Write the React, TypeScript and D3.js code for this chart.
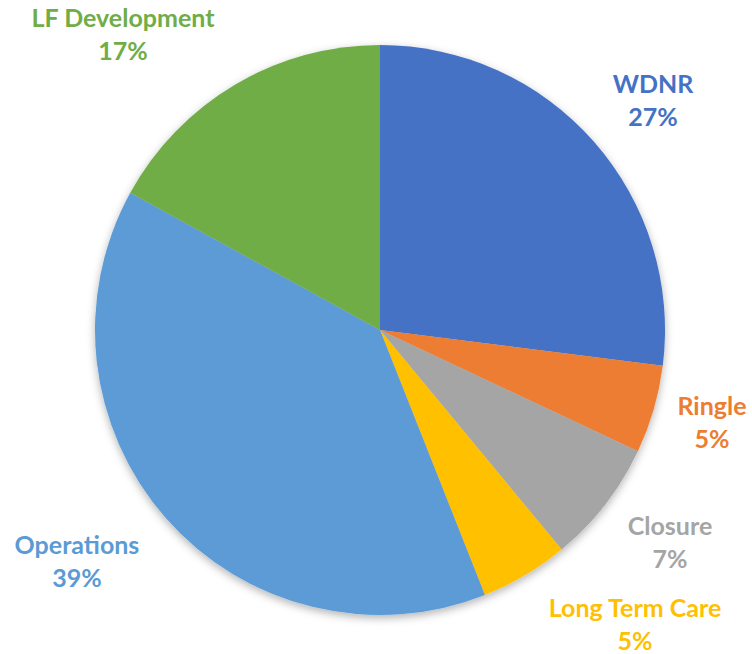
import React from "react";
import * as d3 from "d3";

const categories = ["WDNR", "Ringle", "Closure", "Long Term Care", "Operations", "LF Development"];
const values = [27, 5, 7, 5, 39, 17];
const colors = ["#4472C4", "#ED7D31", "#A5A5A5", "#FFC000", "#5B9BD5", "#70AD47"];
const labelPos: [number, number][] = [
  [653, 93],
  [712, 415],
  [670, 535],
  [635, 617],
  [77, 554],
  [123, 27],
];

const W = 752;
const H = 654;
const cx = 380;
const cy = 330;
const R = 285;

export default function App() {
  const pie = d3.pie<number>().sort(null).value((d) => d)(values);
  const arc = d3.arc<d3.PieArcDatum<number>>().innerRadius(0).outerRadius(R);
  const total = d3.sum(values);
  return (
    <svg
      width={W}
      height={H}
      style={{ position: "absolute", left: 0, top: 0, background: "#fff" }}
      fontFamily="Lato, 'Open Sans', sans-serif"
    >
      <defs>
        <filter id="sh" x="-20%" y="-20%" width="140%" height="140%">
          <feDropShadow dx="0" dy="3" stdDeviation="4" floodColor="#000" floodOpacity="0.3" />
        </filter>
      </defs>
      <g transform={`translate(${cx},${cy})`} filter="url(#sh)">
        {pie.map((p, i) => (
          <path key={i} d={arc(p) || ""} fill={colors[i]} />
        ))}
      </g>
      {categories.map((c, i) => (
        <text
          key={c}
          x={labelPos[i][0]}
          y={labelPos[i][1]}
          textAnchor="middle"
          fill={colors[i]}
          fontWeight="bold"
          fontSize={25}
        >
          <tspan x={labelPos[i][0]}>{c}</tspan>
          <tspan x={labelPos[i][0]} dy={33}>
            {Math.round((values[i] / total) * 100)}%
          </tspan>
        </text>
      ))}
    </svg>
  );
}
